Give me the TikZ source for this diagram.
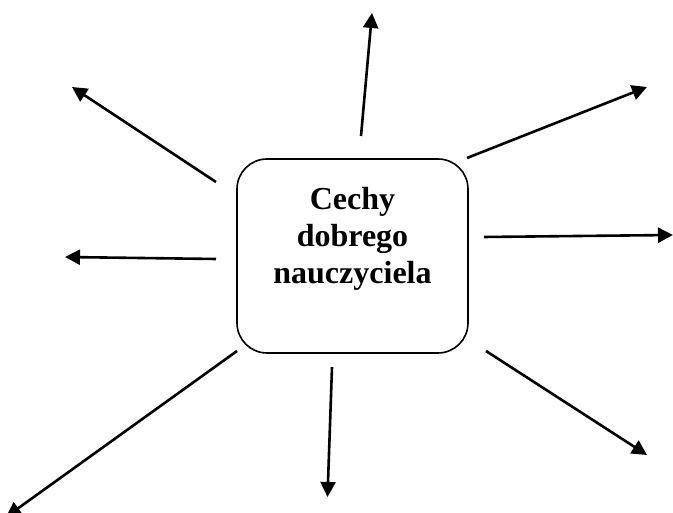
\documentclass[tikz,border=0pt]{standalone}
\usepackage{fontspec}
\setmainfont{Liberation Serif}
\usetikzlibrary{arrows.meta}
\begin{document}
\begin{tikzpicture}[x=1pt,y=1pt,
  centerbox/.style={draw=black,line width=1.6pt,rounded corners=30pt,minimum width=231pt,minimum height=194pt,inner sep=0pt},
  lbl/.style={font=\fontsize{32}{37}\selectfont\bfseries,align=center,inner sep=0pt},
  ray/.style={line width=2.6pt,-{Triangle[length=15pt,width=15pt]}}]
\useasboundingbox (0,0) rectangle (673,513);
\node[centerbox] (box) at (352.5,257) {};
\node[lbl,anchor=base] (title) at (352.5,229) {Cechy\\dobrego\\nauczyciela};
% tails
\coordinate (t1) at (361,377);
\coordinate (t2) at (467,355);
\coordinate (t3) at (484,276);
\coordinate (t4) at (486,162);
\coordinate (t5) at (332,146);
\coordinate (t6) at (237,162);
\coordinate (t7) at (216,254);
\coordinate (t8) at (216,331);
% heads
\coordinate (h1) at (372,500);
\coordinate (h2) at (647,426);
\coordinate (h3) at (673,278);
\coordinate (h4) at (647,58);
\coordinate (h5) at (327.5,16);
\coordinate (h6) at (6,-4);
\coordinate (h7) at (65,256);
\coordinate (h8) at (72,426);
\foreach \i in {1,...,8}{\draw[ray] (t\i) -- (h\i);}
\end{tikzpicture}
\end{document}
